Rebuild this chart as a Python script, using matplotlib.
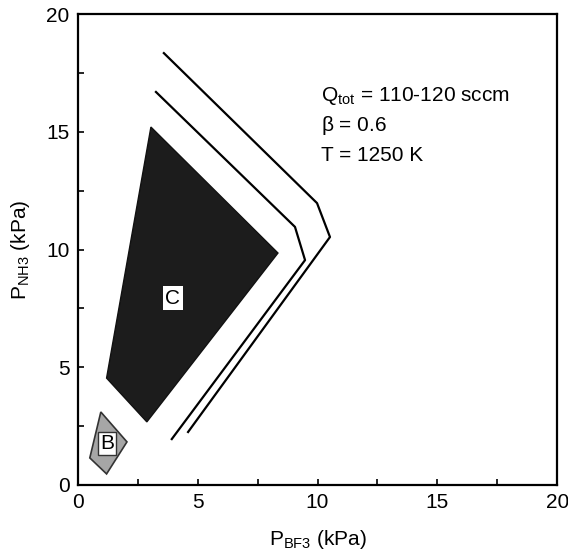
import matplotlib.pyplot as plt
from matplotlib.patches import Polygon

plt.rcParams["font.family"] = ["Liberation Sans", "DejaVu Sans"]
plt.rcParams["mathtext.fontset"] = "custom"
plt.rcParams["mathtext.rm"] = "Liberation Sans"

# region C (black area)
c_x = [3.05, 8.35, 2.88, 1.20]
c_y = [15.2, 9.85, 2.68, 4.54]
# region B (grey area)
b_x = [0.96, 2.05, 1.20, 0.50]
b_y = [3.10, 1.83, 0.47, 1.15]
# boundary lines
outer_x = [3.59, 9.98, 10.52, 4.60]
outer_y = [18.34, 11.97, 10.53, 2.25]
inner_x = [3.26, 9.06, 9.48, 3.92]
inner_y = [16.69, 10.96, 9.55, 1.95]

ticks = [0, 5, 10, 15, 20]
minor = [2.5, 7.5, 12.5, 17.5]

fs = 15

fig = plt.figure(figsize=(5.68, 5.52), dpi=100)
ax = fig.add_axes([0.137, 0.1214, 0.844, 0.8532])

ax.add_patch(Polygon(list(zip(c_x, c_y)), closed=True, facecolor="#1c1c1c",
                     edgecolor="#111111", lw=1))
ax.add_patch(Polygon(list(zip(b_x, b_y)), closed=True, facecolor="#a6a6a6",
                     edgecolor="#333333", lw=1.2))
ax.plot(outer_x, outer_y, color="black", lw=1.6)
ax.plot(inner_x, inner_y, color="black", lw=1.6)

ax.text(3.97, 7.94, "C", fontsize=fs, ha="center", va="center",
        bbox=dict(facecolor="white", edgecolor="none", pad=2))
ax.text(1.22, 1.75, "B", fontsize=fs, ha="center", va="center",
        bbox=dict(facecolor="white", edgecolor="#333333", lw=1, pad=1.5))

ax.text(10.15, 16.5, r"Q$_{\mathregular{tot}}$ = 110-120 sccm", fontsize=fs,
        va="center")
ax.text(10.15, 15.25, r"$\mathregular{\beta}$ = 0.6", fontsize=fs, va="center")
ax.text(10.15, 14.0, "T = 1250 K", fontsize=fs, va="center")

ax.set_xlim(0, 20)
ax.set_ylim(0, 20)
ax.set_xticks(ticks)
ax.set_yticks(ticks)
ax.set_xticks(minor, minor=True)
ax.set_yticks(minor, minor=True)
ax.tick_params(which="both", direction="in", length=4, width=1.2,
               labelsize=fs, pad=6)
for s in ax.spines.values():
    s.set_linewidth(1.6)

ax.set_xlabel(r"P$_{\mathregular{BF3}}$ (kPa)", fontsize=fs, labelpad=11)
ax.set_ylabel(r"P$_{\mathregular{NH3}}$ (kPa)", fontsize=fs, labelpad=10)

fig.savefig("out.png", dpi=100)
